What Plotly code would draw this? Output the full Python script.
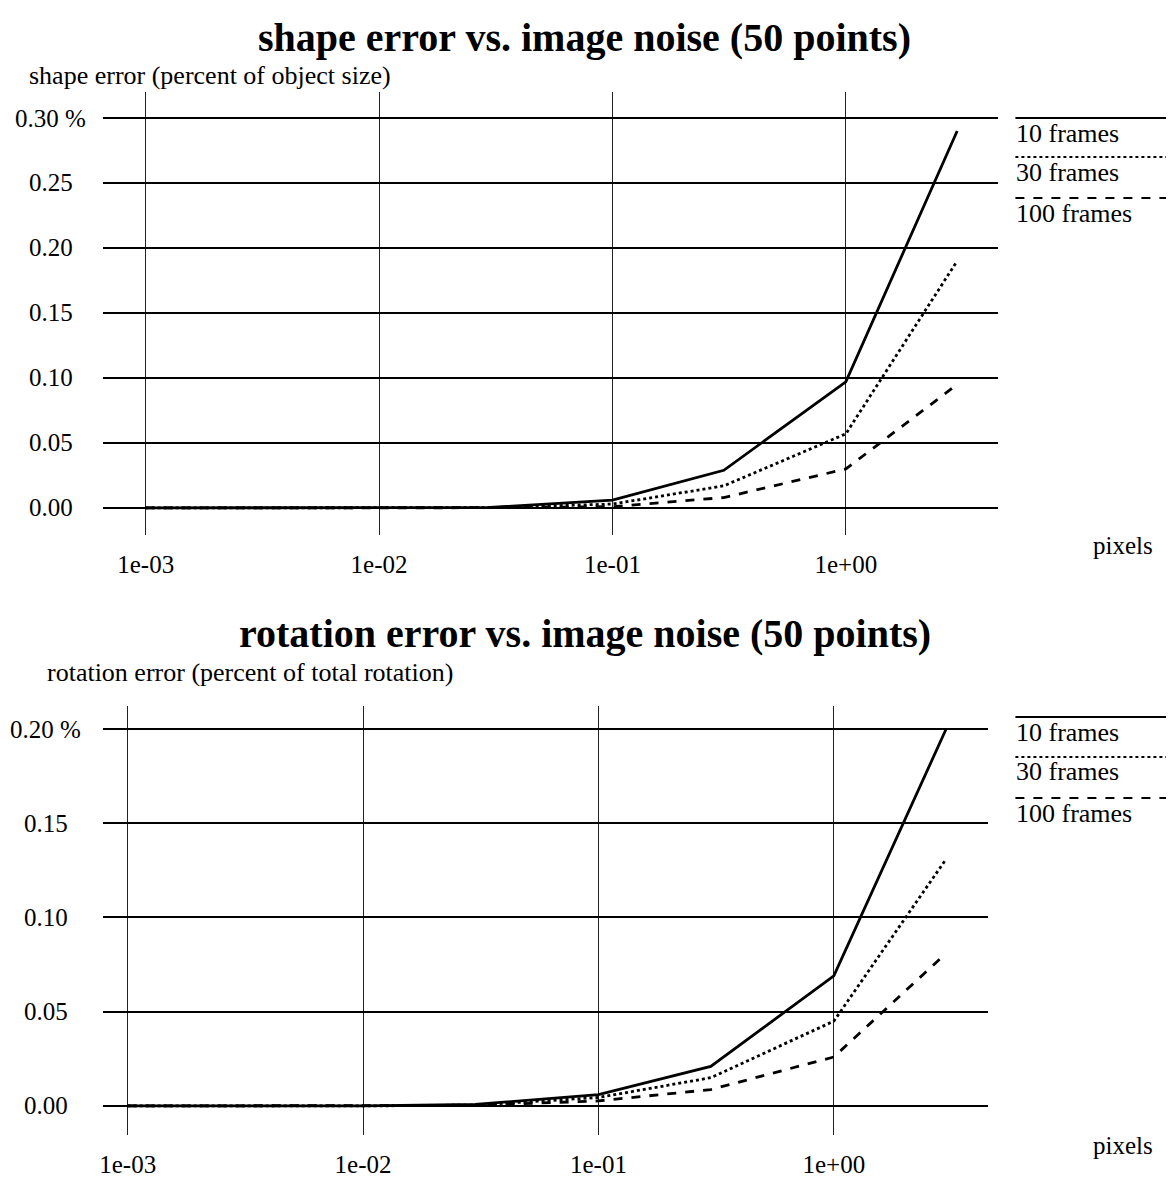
import plotly.graph_objects as go

W, H = 1174, 1184

# ---------------- data ----------------
noise_px = [0.001, 0.003, 0.01, 0.03, 0.1, 0.3, 1.0, 3.0]
series_names = ["10 frames", "30 frames", "100 frames"]

shape_10 = [0, 0, 0, 0.0005, 0.006, 0.029, 0.097, 0.290]
shape_30 = [0, 0, 0, 0.0003, 0.003, 0.017, 0.057, 0.190]
shape_100 = [0, 0, 0, 0.0002, 0.001, 0.008, 0.030, 0.095]

rot_10 = [0, 0, 0, 0.0008, 0.006, 0.021, 0.069, 0.200]
rot_30 = [0, 0, 0, 0.0005, 0.0045, 0.015, 0.045, 0.131]
rot_100 = [0, 0, 0, 0.0003, 0.0027, 0.0087, 0.026, 0.081]

x_tick_vals = [0.001, 0.01, 0.1, 1.0]
x_tick_text = ["1e-03", "1e-02", "1e-01", "1e+00"]

shape_y_ticks = [0.30, 0.25, 0.20, 0.15, 0.10, 0.05, 0.00]
shape_y_text = ["0.30 %", "0.25", "0.20", "0.15", "0.10", "0.05", "0.00"]
rot_y_ticks = [0.20, 0.15, 0.10, 0.05, 0.00]
rot_y_text = ["0.20 %", "0.15", "0.10", "0.05", "0.00"]

titles = ["shape error vs. image noise (50 points)",
          "rotation error vs. image noise (50 points)"]
ylabels = ["shape error (percent of object size)",
           "rotation error (percent of total rotation)"]
xlabel = "pixels"

# ---------------- styling ----------------
FONT = "Liberation Serif"
dashes = ["solid", "dot", "dash"]

def px_x(p):
    return p / W

def px_y(p):
    return 1 - p / H

fig = go.Figure()

for name, ys, d in zip(series_names, [shape_10, shape_30, shape_100], dashes):
    fig.add_trace(go.Scatter(x=noise_px, y=ys, mode="lines", name=name,
                             line=dict(color="black", width=2.8, dash=d),
                             xaxis="x", yaxis="y", showlegend=False))
for name, ys, d in zip(series_names, [rot_10, rot_30, rot_100], dashes):
    fig.add_trace(go.Scatter(x=noise_px, y=ys, mode="lines", name=name,
                             line=dict(color="black", width=2.8, dash=d),
                             xaxis="x2", yaxis="y2", showlegend=False))

xaxis_common = dict(type="log", tickvals=x_tick_vals, ticktext=x_tick_text,
                    showgrid=True, gridcolor="#222222", gridwidth=1,
                    zeroline=False, showline=False, ticks="",
                    tickfont=dict(family=FONT, size=25, color="black"),
                    ticklabelstandoff=12)
yaxis_common = dict(showgrid=True, gridcolor="black",
                    gridwidth=2.4, zeroline=False, showline=False,
                    showticklabels=False, ticks="")

fig.update_layout(
    width=W, height=H,
    margin=dict(l=0, r=0, t=0, b=0),
    paper_bgcolor="white", plot_bgcolor="white",
    xaxis=dict(domain=[px_x(100), px_x(998)], range=[-3.184, 0.654],
               anchor="y", **xaxis_common),
    yaxis=dict(domain=[px_y(535), px_y(92)], range=[-0.0208, 0.32],
               anchor="x", tickvals=shape_y_ticks, **yaxis_common),
    xaxis2=dict(domain=[px_x(100), px_x(988)], range=[-3.106, 0.657],
                anchor="y2", **xaxis_common),
    yaxis2=dict(domain=[px_y(1135), px_y(706)], range=[-0.0154, 0.2122],
                anchor="x2", tickvals=rot_y_ticks, **yaxis_common),
)

ann = []
# titles and axis labels
for t, ty in zip(titles, [37, 633]):
    ann.append(dict(text="<b>%s</b>" % t, x=px_x(583), y=px_y(ty), xref="paper", yref="paper",
                    showarrow=False, xanchor="center", yanchor="middle",
                    font=dict(family=FONT, size=40, color="black")))
for t, ty, lx in zip(ylabels, [75, 672], [24, 42]):
    ann.append(dict(text=t, x=px_x(lx), y=px_y(ty), xref="paper", yref="paper",
                    showarrow=False, xanchor="left", yanchor="middle",
                    font=dict(family=FONT, size=26, color="black")))
for ty in [545, 1145]:
    ann.append(dict(text=xlabel, x=px_x(1091), y=px_y(ty), xref="paper", yref="paper",
                    showarrow=False, xanchor="left", yanchor="middle",
                    font=dict(family=FONT, size=25, color="black")))
# y tick labels (centered in left margin)
for vals, texts, yref, cx in [(shape_y_ticks, shape_y_text, "y", 48),
                              (rot_y_ticks, rot_y_text, "y2", 43)]:
    for v, t in zip(vals, texts):
        ann.append(dict(text=t, x=px_x(cx), y=v, xref="paper", yref=yref,
                        showarrow=False, xanchor="center", yanchor="middle",
                        font=dict(family=FONT, size=25, color="black")))

# legends: line above label
shapes = []
for line_ys in [[118, 157, 198], [717, 757, 798]]:
    for name, d, ly in zip(series_names, dashes, line_ys):
        shapes.append(dict(type="line", xref="paper", yref="paper",
                           x0=px_x(1015), x1=px_x(1166), y0=px_y(ly), y1=px_y(ly),
                           line=dict(color="black", width=2.2 if d == "solid" else 1.8, dash=d)))
        ann.append(dict(text=name, x=px_x(1014), y=px_y(ly + 15), xref="paper", yref="paper",
                        showarrow=False, xanchor="left", yanchor="middle",
                        font=dict(family=FONT, size=26, color="black")))

fig.update_layout(annotations=ann, shapes=shapes)
fig.write_html("out.html")
